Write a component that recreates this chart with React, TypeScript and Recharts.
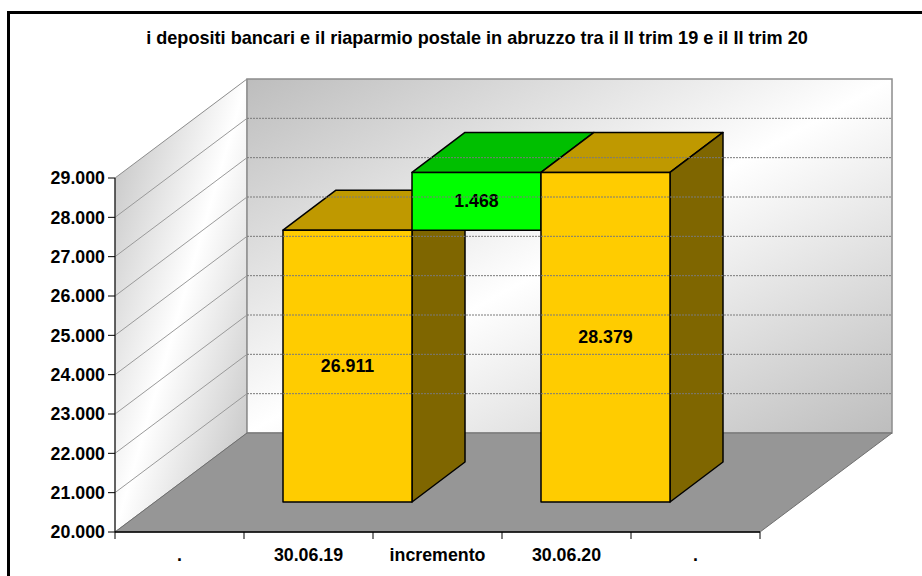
import { Bar, BarChart, ReferenceArea, ReferenceLine, XAxis, YAxis } from 'recharts'

const categories = ['.', '30.06.19', 'incremento', '30.06.20', '.']
const shownValues = [null, 26911, 1468, 28379, null]
const barStarts = [null, 20000, 26911, 20000, null]
const barEnds = [null, 26911, 28379, 28379, null]
const yTicks = [20000, 21000, 22000, 23000, 24000, 25000, 26000, 27000, 28000, 29000]

const rows = categories.map((category, i) => ({
  id: i,
  category,
  shown: shownValues[i],
  range: barStarts[i] === null ? null : [barStarts[i], barEnds[i]],
}))

const FONT = '"Liberation Sans", Arial, sans-serif'
const WALL = { dx: 132, dy: -99 }
const BAR_SHIFT = { dx: 39, dy: -30 }
const BAR_DEPTH = { dx: 53, dy: -40 }
const BAND = 129

const formatValue = (v: number) => String(v).replace(/\B(?=(\d{3})+$)/g, '.')

function Walls({ x, y, width, height }: any) {
  const l = x
  const r = x + width
  const t = y
  const b = y + height
  const { dx, dy } = WALL
  return (
    <g>
      <polygon
        points={`${l},${t} ${l + dx},${t + dy} ${l + dx},${b + dy} ${l},${b}`}
        fill="url(#sideWall)"
        stroke="#8c8c8c"
        strokeWidth={1}
      />
      <rect x={l + dx} y={t + dy} width={width} height={height} fill="url(#backWall)" stroke="#8c8c8c" strokeWidth={1.5} />
      <polygon
        points={`${l},${b} ${l + dx},${b + dy} ${r + dx},${b + dy} ${r},${b}`}
        fill="#969696"
        stroke="#6e6e6e"
        strokeWidth={1}
      />
    </g>
  )
}

function WallLine({ x1, y1, x2 }: any) {
  const { dx, dy } = WALL
  return (
    <g fill="none">
      <line x1={x1} y1={y1} x2={x1 + dx} y2={y1 + dy} stroke="#9a9a9a" strokeWidth={1} />
      <line x1={x1 + dx} y1={y1 + dy} x2={x2 + dx} y2={y1 + dy} stroke="#7a7a7a" strokeWidth={1} strokeDasharray="2 1" />
    </g>
  )
}

function Block(props: any) {
  const { x, y, width, height, payload } = props
  if (!height || payload.shown === null) return <g />
  const isIncrement = payload.category === 'incremento'
  const fx = x + BAR_SHIFT.dx
  const fy = y + BAR_SHIFT.dy
  const { dx, dy } = BAR_DEPTH
  return (
    <g stroke="#000" strokeWidth={1.5} strokeLinejoin="round">
      <polygon
        points={`${fx},${fy} ${fx + dx},${fy + dy} ${fx + width + dx},${fy + dy} ${fx + width},${fy}`}
        fill={isIncrement ? '#00bf00' : '#bf9900'}
      />
      {!isIncrement && (
        <polygon
          points={`${fx + width},${fy} ${fx + width + dx},${fy + dy} ${fx + width + dx},${fy + height + dy} ${fx + width},${fy + height}`}
          fill="#7f6600"
        />
      )}
      <rect x={fx} y={fy} width={width} height={height} fill={isIncrement ? '#00ff00' : '#ffcc00'} />
      <text
        x={fx + width / 2}
        y={fy + height / 2}
        textAnchor="middle"
        dominantBaseline="central"
        fontFamily={FONT}
        fontWeight="bold"
        fontSize={17.8}
        fill="#000"
        stroke="none"
      >
        {formatValue(payload.shown)}
      </text>
    </g>
  )
}

function CategoryTick({ x, y, payload, index }: any) {
  const left = x - BAND / 2
  return (
    <g>
      <line x1={left} y1={y - 8} x2={left} y2={y - 1} stroke="#000" />
      {index === categories.length - 1 && <line x1={left + BAND} y1={y - 8} x2={left + BAND} y2={y - 1} stroke="#000" />}
      <text x={x} y={y + 21} textAnchor="middle" fontFamily={FONT} fontWeight="bold" fontSize={17.8} fill="#000">
        {categories[payload.index ?? index]}
      </text>
    </g>
  )
}

export default function App() {
  return (
    <div style={{ position: 'absolute', left: 0, top: 0, width: 922, height: 576, overflow: 'hidden', background: '#fff' }}>
      <div style={{ position: 'absolute', left: 7, top: 11, width: 1000, height: 1000, border: '3px solid #000' }} />
      <div
        style={{
          position: 'absolute',
          left: 0,
          top: 29,
          width: 954,
          textAlign: 'center',
          fontFamily: FONT,
          fontWeight: 'bold',
          fontSize: 18.1,
          lineHeight: '18px',
          color: '#000',
          whiteSpace: 'nowrap',
        }}
      >
        i depositi bancari e il riaparmio postale in abruzzo tra il II trim 19 e il II trim 20
      </div>
      <BarChart
        width={922}
        height={576}
        data={rows}
        barCategoryGap={0}
        barGap={0}
        margin={{ top: 178, right: 162, bottom: 0, left: 0 }}
        style={{ position: 'absolute', left: 0, top: 0 }}
      >
        <defs>
          <linearGradient id="backWall" x1="0" y1="0" x2="1" y2="1">
            <stop offset="0" stopColor="#bdbdbd" />
            <stop offset="0.5" stopColor="#ffffff" />
            <stop offset="1" stopColor="#bdbdbd" />
          </linearGradient>
          <linearGradient id="sideWall" x1="0" y1="0" x2="1" y2="1">
            <stop offset="0" stopColor="#bdbdbd" />
            <stop offset="0.5" stopColor="#ffffff" />
            <stop offset="1" stopColor="#bdbdbd" />
          </linearGradient>
        </defs>
        <ReferenceArea y1={20000} y2={29000} shape={Walls} fillOpacity={1} />
        {yTicks.slice(1, -1).map((t) => (
          <ReferenceLine key={t} y={t} shape={WallLine} />
        ))}
        <XAxis
          dataKey="id"
          type="category"
          height={44}
          axisLine={{ stroke: '#000', strokeWidth: 1.5 }}
          tickLine={false}
          interval={0}
          tick={CategoryTick}
        />
        <YAxis
          width={115}
          domain={[20000, 29000]}
          ticks={yTicks}
          interval={0}
          tickFormatter={formatValue}
          axisLine={{ stroke: '#000', strokeWidth: 1 }}
          tickLine={{ stroke: '#000' }}
          tickSize={7}
          tickMargin={3}
          tick={{ fontFamily: FONT, fontWeight: 'bold', fontSize: 17.8, fill: '#000' }}
        />
        <Bar dataKey="range" isAnimationActive={false} shape={Block} />
      </BarChart>
    </div>
  )
}
